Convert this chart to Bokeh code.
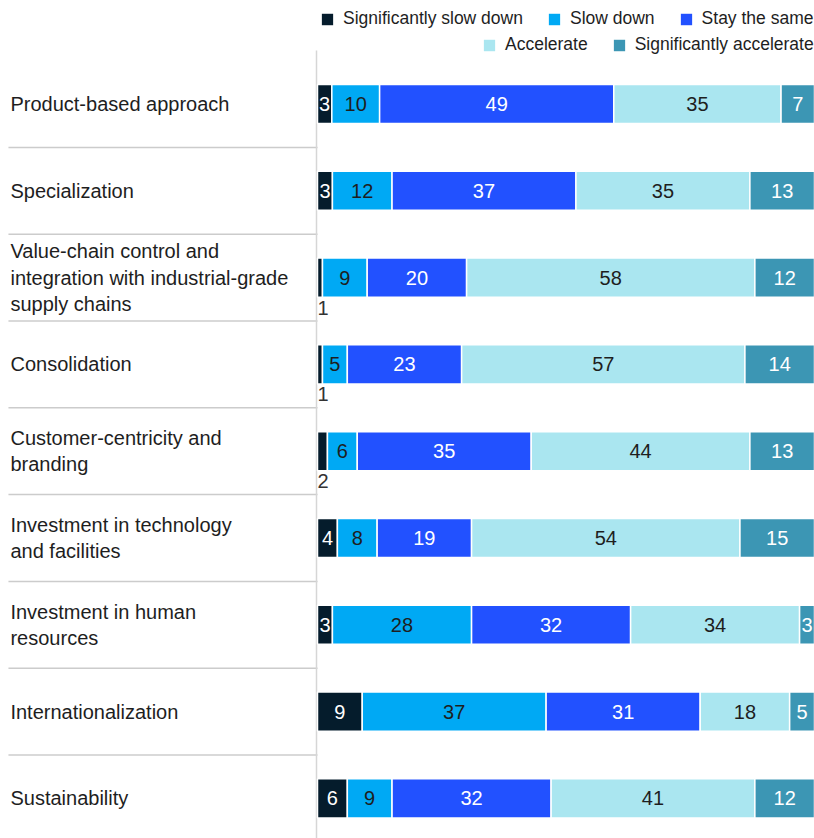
from bokeh.plotting import figure
from bokeh.models import ColumnDataSource, Range1d, Legend, LegendItem
from bokeh.core.properties import value
from bokeh.embed import file_html
from bokeh.resources import INLINE

# ---------------- data ----------------
categories = [
    "Product-based approach",
    "Specialization",
    "Value-chain control and\nintegration with industrial-grade\nsupply chains",
    "Consolidation",
    "Customer-centricity and\nbranding",
    "Investment in technology\nand facilities",
    "Investment in human\nresources",
    "Internationalization",
    "Sustainability",
]
series = ["Significantly slow down", "Slow down", "Stay the same",
          "Accelerate", "Significantly accelerate"]
sig_slow = [3, 3, 1, 1, 2, 4, 3, 9, 6]
slow = [10, 12, 9, 5, 6, 8, 28, 37, 9]
same = [49, 37, 20, 23, 35, 19, 32, 31, 32]
accel = [35, 35, 58, 57, 44, 54, 34, 18, 41]
sig_accel = [7, 13, 12, 14, 13, 15, 3, 5, 12]

colors = ["#051c2c", "#00a9f4", "#2251ff", "#aae6f0", "#3c96b4"]
label_colors = ["#ffffff", "#1e1e1e", "#ffffff", "#1e1e1e", "#ffffff"]

# ---------------- layout constants ----------------
FONT = "Liberation Sans"
W, H = 814, 838
BAR_PX = 497.0            # width of the 100% bar in px
XMIN = -317.0 / BAR_PX * 100
ROW_PX = 86.8
Y_TOP = -103.5 / ROW_PX
Y_BOT = Y_TOP + H / ROW_PX
BAR_H = 0.45
AXIS_TOP = (50 - 103.5) / ROW_PX

values = [sig_slow, slow, same, accel, sig_accel]
n = len(categories)
ys = list(range(n))

p = figure(width=W, height=H, output_backend="svg", toolbar_location=None,
           x_range=Range1d(XMIN, 100), y_range=Range1d(Y_BOT, Y_TOP),
           x_axis_location=None, y_axis_location=None, min_border=0)
p.outline_line_color = None
p.grid.visible = False
p.background_fill_color = "white"

# separators and axis line
seps = [i + 0.5 for i in range(n - 1)]
p.segment(x0=[XMIN + 1.6] * len(seps), x1=[0] * len(seps), y0=seps, y1=seps,
          line_color="#cccccc", line_width=1.5)
p.segment(x0=[-0.2], x1=[-0.2], y0=[AXIS_TOP], y1=[Y_BOT],
          line_color="#d6d6d6", line_width=1.5)

totals = [sum(v[i] for v in values) for i in range(n)]
left = [0.0] * n
renderers = []
in_x, in_y, in_t, in_c = [], [], [], []
sm_x, sm_y, sm_t = [], [], []
for k, vals in enumerate(values):
    widths = [vals[i] / totals[i] * 100 for i in range(n)]
    right = [left[i] + widths[i] for i in range(n)]
    src = ColumnDataSource(dict(y=ys, left=list(left), right=right))
    r = p.hbar(y="y", left="left", right="right", height=BAR_H, source=src,
               fill_color=colors[k], line_color="white", line_width=1.5)
    renderers.append(r)
    for i in range(n):
        if vals[i] >= 3:
            in_x.append((left[i] + right[i]) / 2)
            in_y.append(i)
            in_t.append(str(vals[i]))
            in_c.append(label_colors[k])
        else:
            sm_x.append(left[i])
            sm_y.append(i + BAR_H / 2 + 0.04)
            sm_t.append(str(vals[i]))
    left = right

p.text(x="x", y="y", text="t", text_color="c",
       source=ColumnDataSource(dict(x=in_x, y=in_y, t=in_t, c=in_c)),
       text_align="center", text_baseline="middle",
       text_font=value(FONT), text_font_size="20px")
p.text(x="x", y="y", text="t",
       source=ColumnDataSource(dict(x=sm_x, y=sm_y, t=sm_t)),
       text_align="left", text_baseline="top", text_color="#333333",
       text_font=value(FONT), text_font_size="20px")

# category labels
p.text(x=[XMIN + 2.0] * n, y=ys, text=categories,
       text_align="left", text_baseline="middle", text_color="#1e1e1e",
       text_font=value(FONT), text_font_size="20px", text_line_height=1.2)

# legends
def make_legend(idx, loc):
    lg = Legend(items=[LegendItem(label=series[k], renderers=[renderers[k]]) for k in idx],
                location=loc, orientation="horizontal",
                glyph_width=16, glyph_height=16, label_standoff=8, spacing=23,
                padding=0, margin=0, border_line_alpha=0, background_fill_alpha=0,
                label_text_font=FONT, label_text_font_size="17.5px",
                label_text_color="#1e1e1e", label_height=20)
    p.add_layout(lg)
    return lg

make_legend([0, 1, 2], (319, 809))
make_legend([3, 4], (481, 783))

open("out.html", "w").write(file_html(p, INLINE))
